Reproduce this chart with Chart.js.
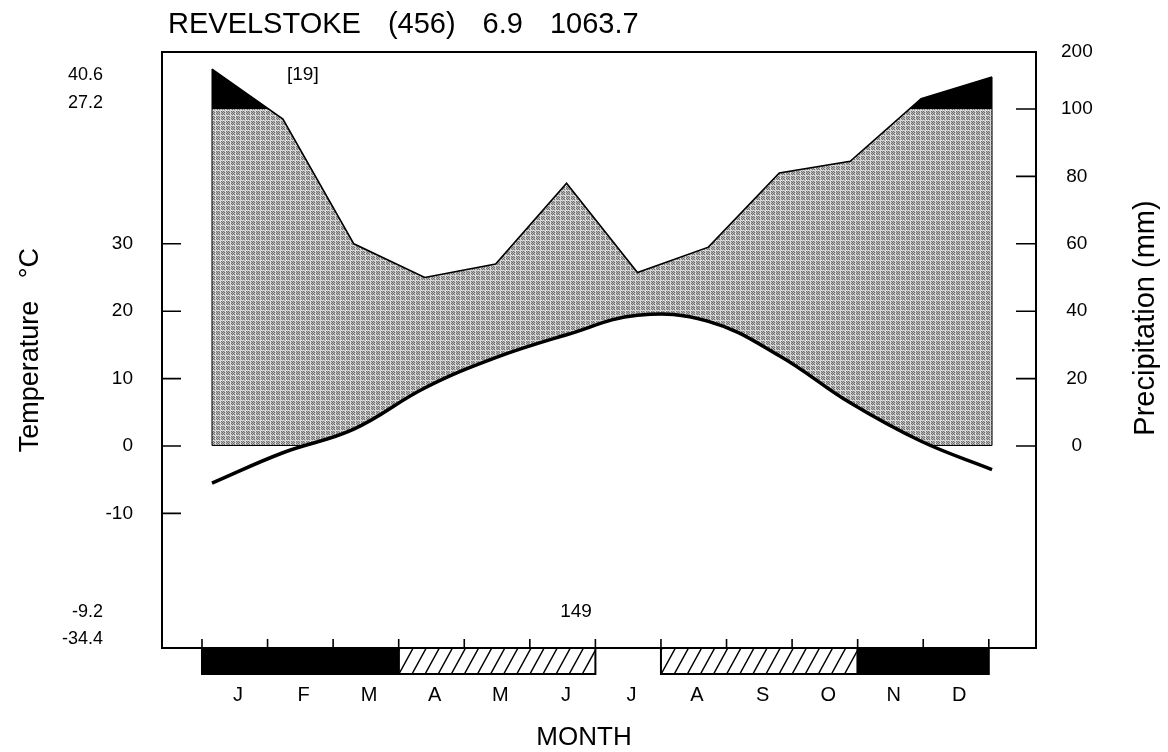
<!DOCTYPE html>
<html>
<head>
<meta charset="utf-8">
<title>Revelstoke climate diagram</title>
<script src="https://cdn.jsdelivr.net/npm/chart.js@4.4.0/dist/chart.umd.min.js"></script>
<style>
  html, body { margin: 0; padding: 0; background: #fff; }
  canvas { display: block; }
</style>
</head>
<body>
<canvas id="climateDiagram" width="1168" height="752"></canvas>
<script>
// station header values
const stationName = 'REVELSTOKE';
const elevation = '(456)';
const meanTemp = '6.9';
const annualPrecip = '1063.7';
const yearsObserved = '[19]';
const frostFreeDays = '149';
const extremesHigh = ['40.6', '27.2'];
const extremesLow = ['-9.2', '-34.4'];

// monthly data
const months = ['J', 'F', 'M', 'A', 'M', 'J', 'J', 'A', 'S', 'O', 'N', 'D'];
const monthPos = [0, 1, 2, 3, 4, 5, 6, 7, 8, 9, 10, 11];
const temperature = [-5.5, -1.0, 2.5, 8.6, 13.1, 16.5, 19.4, 18.5, 13.4, 6.4, 0.7, -3.5];
const precipitation = [170, 97, 60, 50, 54, 78, 51.5, 59, 81, 84.5, 118, 156];
// 2 = certain frost, 1 = probable frost, 0 = none
const frost = [2, 2, 2, 1, 1, 1, 0, 1, 1, 1, 2, 2];

const tempTicks = [30, 20, 10, 0, -10];
const precipTicks = [0, 20, 40, 60, 80, 100, 200];

// plot box and axis ranges (10 °C = 20 mm, scale reduced above 100 mm)
const chartTop = 52, chartBottom = 648.2, pxPerDegree = 6.74;
const tempMin = -30;
const tempMax = tempMin + (chartBottom - chartTop) / pxPerDegree;
const precipBreak = 100, precipTop = 200;
const xMin = -0.705, xMax = 11.62;
const monthAxisMin = -0.61, monthAxisMax = 12.72;

const fontFamily = "'Liberation Sans', Arial, sans-serif";

// precipitation scale with a compressed part above 100 mm
class BrokenMmScale extends Chart.LinearScale {
    getPixelForValue(value) {
        if (value <= precipBreak) return super.getPixelForValue(value);
        const p = super.getPixelForValue(precipBreak);
        return p + (value - precipBreak) / (precipTop - precipBreak) * (this.top - p);
    }
    getValueForPixel(pixel) {
        const p = super.getPixelForValue(precipBreak);
        if (pixel >= p) return super.getValueForPixel(pixel);
        return precipBreak + (p - pixel) / (p - this.top) * (precipTop - precipBreak);
    }
}
BrokenMmScale.id = 'brokenMm';
BrokenMmScale.defaults = Chart.LinearScale.defaults;
Chart.register(BrokenMmScale);

// stippled grey fill like the printed screen
function makeGrey() {
    const n = 5;
    const c = document.createElement('canvas');
    c.width = n; c.height = n;
    const g = c.getContext('2d');
    const img = g.createImageData(n, n);
    for (let y = 0; y < n; y++) {
        for (let x = 0; x < n; x++) {
            let v = ((x + y) % 2 === 0) ? 112 : 182;
            if (x === 0 || y === 0) v = ((x + y) % 2 === 0) ? 200 : 232;
            const k = (y * n + x) * 4;
            img.data[k] = img.data[k + 1] = img.data[k + 2] = v;
            img.data[k + 3] = 255;
        }
    }
    g.putImageData(img, 0, 0);
    return g.createPattern(c, 'repeat');
}

const canvas = document.getElementById('climateDiagram');
const ctx = canvas.getContext('2d');
const greyPattern = makeGrey();

const precipPoints = precipitation.map((p, i) => ({ x: monthPos[i], y: p }));
const tempPoints = temperature.map((t, i) => ({ x: monthPos[i], y: t }));

function text(c, str, x, y, size, align) {
    c.font = size + 'px ' + fontFamily;
    c.textAlign = align || 'left';
    c.textBaseline = 'middle';
    c.fillText(str, x, y);
}

const diagramPlugin = {
    id: 'diagramPlugin',
    afterDatasetDraw(chart, args) {
        if (args.index !== 1) return;
        // outline of the humid area (edges and zero line)
        const { ctx: c, scales: { x, y1 } } = chart;
        const last = monthPos.length - 1;
        const xa = x.getPixelForValue(monthPos[0]);
        const xb = x.getPixelForValue(monthPos[last]);
        const base = Math.round(y1.getPixelForValue(0));
        c.save();
        c.strokeStyle = '#000';
        c.lineWidth = 1;
        c.beginPath();
        c.moveTo(xa, y1.getPixelForValue(precipitation[0]));
        c.lineTo(xa, base - 0.5);
        c.lineTo(xb, base - 0.5);
        c.lineTo(xb, y1.getPixelForValue(precipitation[last]));
        c.stroke();
        c.restore();
    },
    afterDraw(chart) {
        const { ctx: c, chartArea: a, scales: { y, y1, x2 } } = chart;
        const bottom = Math.round(a.bottom);
        c.save();
        c.strokeStyle = '#000';
        c.fillStyle = '#000';

        // frame
        c.lineWidth = 2;
        c.strokeRect(a.left, a.top, a.right - a.left, bottom - a.top);

        // inward ticks
        c.lineWidth = 1.6;
        c.beginPath();
        tempTicks.forEach(v => {
            const py = y.getPixelForValue(v);
            c.moveTo(a.left, py); c.lineTo(a.left + 19, py);
        });
        precipTicks.filter(v => v <= precipBreak).forEach(v => {
            const py = y1.getPixelForValue(v);
            c.moveTo(a.right - 20, py); c.lineTo(a.right, py);
        });
        for (let k = 0; k <= months.length; k++) {
            const px = x2.getPixelForValue(k);
            c.moveTo(px, bottom); c.lineTo(px, bottom - 9);
        }
        c.stroke();

        // frost bar
        const barTop = bottom, barH = 26;
        let i = 0;
        while (i < frost.length) {
            let j = i;
            while (j + 1 < frost.length && frost[j + 1] === frost[i]) j++;
            if (frost[i] > 0) {
                const xa = x2.getPixelForValue(i);
                const xb = x2.getPixelForValue(j + 1);
                if (frost[i] === 2) {
                    c.fillRect(xa, barTop, xb - xa, barH);
                } else {
                    c.save();
                    c.beginPath();
                    c.rect(xa, barTop, xb - xa, barH);
                    c.clip();
                    c.lineWidth = 1.5;
                    c.beginPath();
                    for (let k = xa - barH; k < xb + barH; k += 13.1) {
                        c.moveTo(k, barTop + barH);
                        c.lineTo(k + barH * 0.55, barTop);
                    }
                    c.stroke();
                    c.restore();
                }
                c.lineWidth = 2;
                c.strokeRect(xa, barTop, xb - xa, barH);
            }
            i = j + 1;
        }

        // header
        c.font = '29px ' + fontFamily;
        c.textAlign = 'left';
        c.textBaseline = 'alphabetic';
        let tx = a.left + 6;
        [stationName, elevation, meanTemp, annualPrecip].forEach(s => {
            c.fillText(s, tx, 33);
            tx += c.measureText(s).width + 27;
        });

        // extremes and notes
        text(c, extremesHigh[0], a.left - 59, a.top + 23, 18, 'right');
        text(c, extremesHigh[1], a.left - 59, a.top + 51, 18, 'right');
        text(c, extremesLow[0], a.left - 59, bottom - 36, 18, 'right');
        text(c, extremesLow[1], a.left - 59, bottom - 9, 18, 'right');
        text(c, yearsObserved, a.left + 125, a.top + 23, 19, 'left');
        text(c, frostFreeDays, 576, bottom - 36, 19, 'center');

        // axis captions
        text(c, 'MONTH', 584, 738, 26, 'center');
        c.translate(1146, 318);
        c.rotate(-Math.PI / 2);
        text(c, 'Precipitation (mm)', 0, 0, 29, 'center');
        c.restore();
    }
};

const chart = new Chart(ctx, {
    type: 'line',
    data: {
        datasets: [{
            // humid period, grey
            data: precipPoints,
            xAxisID: 'x',
            yAxisID: 'y1',
            borderColor: 'rgba(0,0,0,0)',
            borderWidth: 0,
            pointRadius: 0,
            fill: { target: { value: 0 }, above: greyPattern, below: 'rgba(0,0,0,0)' },
            order: 3
        }, {
            // over 100 mm, black
            data: precipPoints,
            xAxisID: 'x',
            yAxisID: 'y1',
            borderColor: '#000',
            borderWidth: 1.6,
            pointRadius: 0,
            fill: { target: { value: precipBreak }, above: '#000', below: 'rgba(0,0,0,0)' },
            order: 2
        }, {
            // temperature curve, white below it
            data: tempPoints,
            xAxisID: 'x',
            yAxisID: 'y',
            borderColor: '#000',
            borderWidth: 3.5,
            tension: 0.4,
            pointRadius: 0,
            fill: { target: { value: 0 }, above: '#fff', below: 'rgba(0,0,0,0)' },
            order: 1
        }]
    },
    options: {
        responsive: false,
        animation: false,
        devicePixelRatio: 1,
        layout: { padding: { top: chartTop, left: 0, right: 0, bottom: 0 } },
        plugins: {
            legend: { display: false },
            tooltip: { enabled: false },
            title: { display: false }
        },
        scales: {
            x: { type: 'linear', display: false, min: xMin, max: xMax },
            x2: {
                type: 'linear',
                position: 'bottom',
                min: monthAxisMin,
                max: monthAxisMax,
                grid: { display: false, drawTicks: false },
                border: { display: false },
                afterBuildTicks: s => { s.ticks = months.map((m, i) => ({ value: i + 0.55 })); },
                ticks: {
                    autoSkip: false,
                    maxRotation: 0,
                    padding: 35,
                    color: '#000',
                    font: { family: fontFamily, size: 20 },
                    callback: (v, i) => months[i]
                },
                afterFit: s => { s.height = 752 - chartBottom; }
            },
            y: {
                position: 'left',
                min: tempMin,
                max: tempMax,
                grid: { display: false, drawTicks: false },
                border: { display: false },
                afterBuildTicks: s => { s.ticks = tempTicks.map(v => ({ value: v })); },
                ticks: {
                    autoSkip: false,
                    padding: 29,
                    color: '#000',
                    font: { family: fontFamily, size: 19 },
                    callback: v => String(v)
                },
                title: {
                    display: true,
                    text: 'Temperature   °C',
                    color: '#000',
                    font: { family: fontFamily, size: 27 },
                    padding: { top: 14, bottom: 0 }
                },
                afterFit: s => { s.width = 162; }
            },
            y1: {
                type: 'brokenMm',
                position: 'right',
                min: tempMin * 2,
                max: tempMax * 2,
                grid: { display: false, drawTicks: false },
                border: { display: false },
                afterBuildTicks: s => { s.ticks = precipTicks.map(v => ({ value: v })); },
                ticks: {
                    autoSkip: false,
                    crossAlign: 'center',
                    padding: 25,
                    color: '#000',
                    font: { family: fontFamily, size: 19 },
                    callback: v => String(v)
                },
                afterFit: s => { s.width = 132; }
            }
        }
    },
    plugins: [diagramPlugin]
});
</script>
</body>
</html>
